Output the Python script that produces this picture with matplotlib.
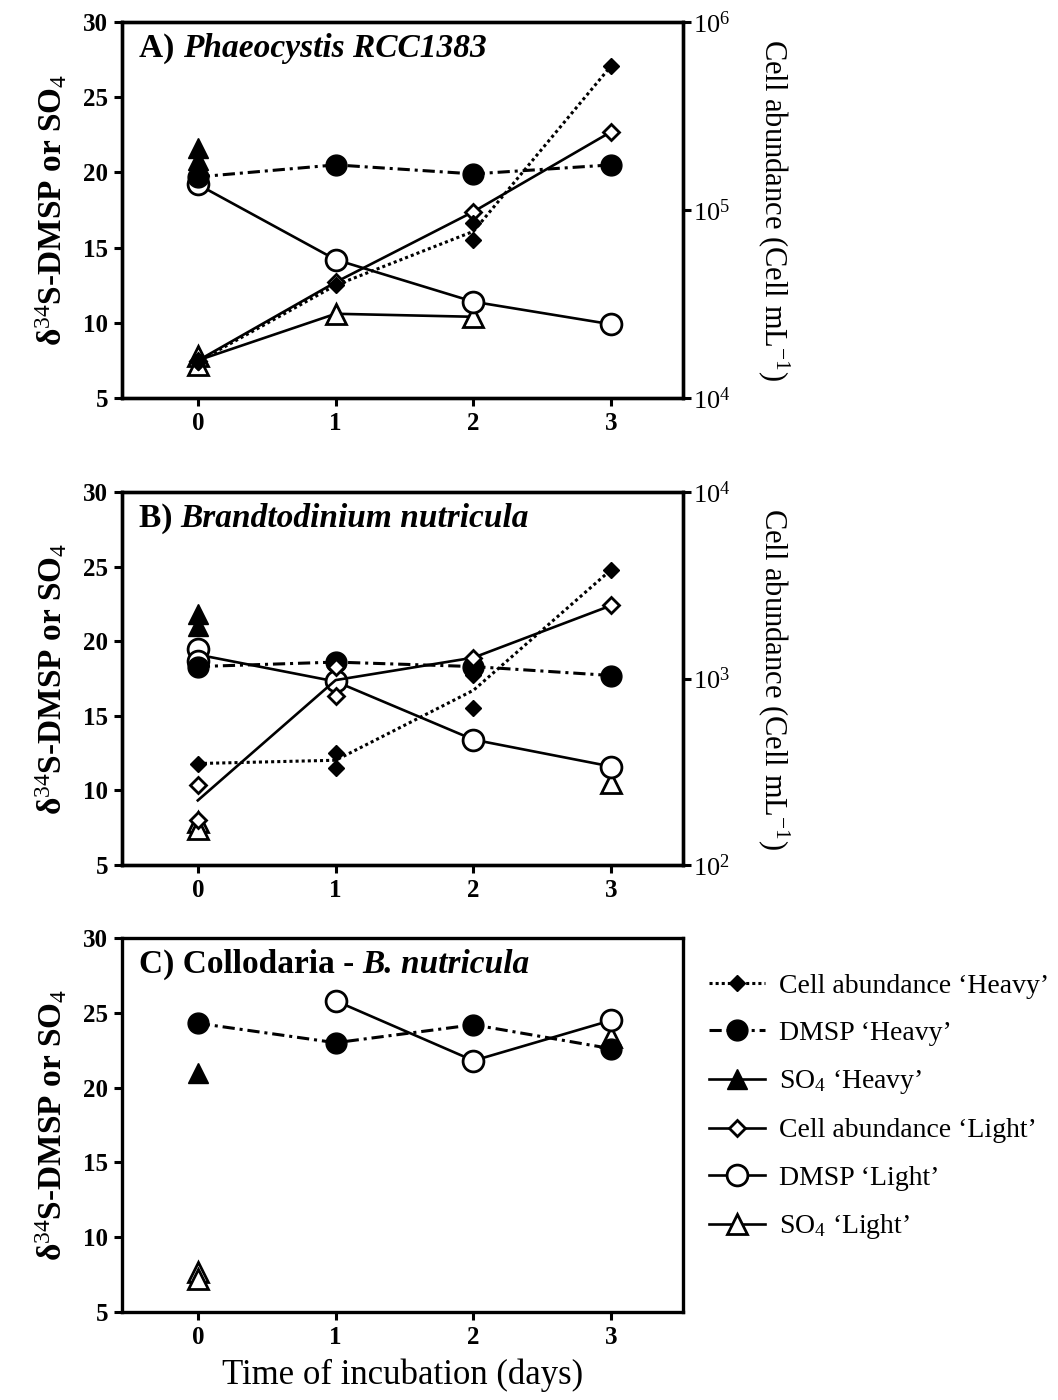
import numpy as np
import matplotlib
matplotlib.use('Agg')
import matplotlib.pyplot as plt
from matplotlib.lines import Line2D
from matplotlib.ticker import LogLocator, NullLocator

plt.rcParams['font.family'] = ['Liberation Serif', 'DejaVu Serif']
plt.rcParams['mathtext.fontset'] = 'custom'
plt.rcParams['mathtext.rm'] = 'Liberation Serif'
plt.rcParams['mathtext.it'] = 'Liberation Serif:italic'
plt.rcParams['mathtext.bf'] = 'Liberation Serif:bold'

# ═══ Data ═════════════════════════════════════════════════════════════════
# one list of replicates per day (empty = no sample)

days = [0, 1, 2, 3]

# A) Phaeocystis RCC1383
a_cell_heavy = [[1.56e4], [3.98e4], [8.5e4, 6.9e4], [5.86e5]]
a_cell_light = [[1.58e4], [4.13e4], [9.8e4], [2.61e5]]
a_dmsp_heavy = [[19.7], [20.5], [19.9], [20.5]]
a_dmsp_light = [[19.2], [14.2], [11.4], [9.9]]
a_so4_heavy = [[21.6, 20.8], [], [], []]
a_so4_light = [[7.8, 7.2], [10.6], [10.4], []]

# B) Brandtodinium nutricula
b_cell_heavy = [[350], [398, 331], [1038, 692], [3840]]
b_cell_light = [[270, 174], [802, 1159], [1294], [2466]]
b_dmsp_heavy = [[18.3], [18.6], [18.3], [17.7]]
b_dmsp_light = [[19.5, 18.7], [17.3], [13.4], [11.6]]
b_so4_heavy = [[21.8, 21.0], [], [], []]
b_so4_light = [[7.9, 7.4], [], [], [10.5]]

# C) Collodaria - B. nutricula
c_dmsp_heavy = [[24.3], [23.0], [24.2], [22.6]]
c_dmsp_light = [[], [25.8], [21.8], [24.5]]
c_so4_heavy = [[21.0], [], [], []]
c_so4_light = [[7.7, 7.2], [], [], [23.4]]

titles = [('A) ', 'Phaeocystis RCC1383'),
          ('B) ', 'Brandtodinium nutricula'),
          ('C) Collodaria - ', 'B. nutricula')]

legend_labels = ["Cell abundance \u2018Heavy\u2019", "DMSP \u2018Heavy\u2019", "SO$_4$ \u2018Heavy\u2019",
                 "Cell abundance \u2018Light\u2019", "DMSP \u2018Light\u2019", "SO$_4$ \u2018Light\u2019"]

# ═══ Styles ═══════════════════════════════════════════════════════════════

LW = 1.9
st = {
  'cell_heavy': dict(marker='D', ms=8, mfc='k', mec='k', ls=(0, (1, 1)), lw=2.2),
  'dmsp_heavy': dict(marker='o', ms=15, mfc='k', mec='k', ls=(0, (4, 1.6, 1, 1.6)), lw=2.2),
  'so4_heavy':  dict(marker='^', ms=15, mfc='k', mec='k', ls='-', lw=LW),
  'cell_light': dict(marker='D', ms=8, mfc='w', mec='k', mew=2, ls='-', lw=LW),
  'dmsp_light': dict(marker='o', ms=15, mfc='w', mec='k', mew=2, ls='-', lw=LW),
  'so4_light':  dict(marker='^', ms=15, mfc='w', mec='k', mew=2, ls='-', lw=LW),
}


def draw(ax, reps, s, z):
  means = [np.mean(r) if len(r) else np.nan for r in reps]
  ax.plot(days, means, color='k', ls=s['ls'], lw=s['lw'], zorder=z)
  for d, r in zip(days, reps):
    for v in r:
      ax.plot(d, v, ls='none', marker=s['marker'], ms=s['ms'], mfc=s['mfc'],
              mec=s['mec'], mew=s.get('mew', 1), zorder=z + 0.5)


def frame(ax, title):
  ax.set_xlim(-0.55, 3.52)
  ax.set_ylim(5, 30)
  ax.set_yticks([5, 10, 15, 20, 25, 30])
  ax.set_xticks(days)
  for sp in ax.spines.values():
    sp.set_linewidth(2.4)
  ax.tick_params(width=2.2, length=6, labelsize=18, pad=4)
  for lab in ax.get_xticklabels() + ax.get_yticklabels():
    lab.set_fontweight('bold')
  ax.set_ylabel('\u03b4$^{34}$S-DMSP or SO$_4$', fontsize=24, fontweight='bold', labelpad=10)
  t1 = ax.text(0.03, 0.93, title[0], transform=ax.transAxes, fontsize=24,
               fontweight='bold', va='center')
  ax.annotate(title[1], xy=(1, 0), xycoords=t1, va='bottom', fontsize=24,
              fontweight='bold', fontstyle='italic')


def right(ax, lo, hi):
  ax2 = ax.twinx()
  ax2.set_yscale('log')
  ax2.set_ylim(lo, hi)
  ax2.yaxis.set_major_locator(LogLocator(base=10, numticks=5))
  ax2.yaxis.set_minor_locator(NullLocator())
  ax2.tick_params(width=2.2, length=6, labelsize=19, pad=1)
  for sp in ax2.spines.values():
    sp.set_linewidth(2.4)
  ax2.set_ylabel('Cell abundance (Cell mL$^{-1}$)', fontsize=22, rotation=-90, labelpad=44)
  return ax2


# ═══ Figure ═══════════════════════════════════════════════════════════════

fig = plt.figure(figsize=(10.58, 14), dpi=100)
W, H = 1058, 1400
L, R = 122, 683

def box(top, bot):
  return [L / W, 1 - bot / H, (R - L) / W, (bot - top) / H]

axA = fig.add_axes(box(22, 398))
axB = fig.add_axes(box(492, 865))
axC = fig.add_axes(box(938, 1312))

frame(axA, titles[0])
frame(axB, titles[1])
frame(axC, titles[2])

axA2 = right(axA, 1e4, 1e6)
axB2 = right(axB, 1e2, 1e4)

# ─── Panel A
draw(axA, a_so4_light, st['so4_light'], 2)
draw(axA, a_dmsp_light, st['dmsp_light'], 3)
draw(axA, a_so4_heavy, st['so4_heavy'], 4)
draw(axA, a_dmsp_heavy, st['dmsp_heavy'], 5)
draw(axA2, a_cell_light, st['cell_light'], 2)
draw(axA2, a_cell_heavy, st['cell_heavy'], 3)

# ─── Panel B
draw(axB, b_so4_light, st['so4_light'], 2)
draw(axB, b_dmsp_light, st['dmsp_light'], 3)
draw(axB, b_so4_heavy, st['so4_heavy'], 4)
draw(axB, b_dmsp_heavy, st['dmsp_heavy'], 5)
draw(axB2, b_cell_light, st['cell_light'], 2)
draw(axB2, b_cell_heavy, st['cell_heavy'], 3)

# ─── Panel C
draw(axC, c_so4_light, st['so4_light'], 2)
draw(axC, c_dmsp_light, st['dmsp_light'], 3)
draw(axC, c_so4_heavy, st['so4_heavy'], 4)
draw(axC, c_dmsp_heavy, st['dmsp_heavy'], 5)

axC.set_xlabel('Time of incubation (days)', fontsize=25, labelpad=7)

# ─── Legend
handles = []
for key in ['cell_heavy', 'dmsp_heavy', 'so4_heavy', 'cell_light', 'dmsp_light', 'so4_light']:
  s = st[key]
  handles.append(Line2D([], [], color='k', ls=s['ls'], lw=s['lw'], marker=s['marker'],
                        ms=s['ms'], mfc=s['mfc'], mec=s['mec'], mew=s.get('mew', 1)))

fig.legend(handles, legend_labels, loc='upper left', bbox_to_anchor=(698 / W, 1 - 962 / H),
           frameon=False, fontsize=20, labelspacing=0.78, handlelength=2.0,
           handletextpad=0.5, borderaxespad=0)

fig.savefig('out.png', dpi=100)
